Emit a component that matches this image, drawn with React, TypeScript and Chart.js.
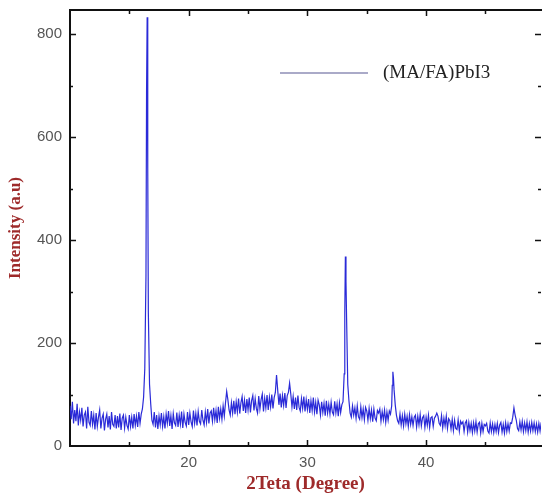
import React, { useEffect, useRef } from "react";
import { Chart, registerables } from "chart.js";

Chart.register(...registerables);

// Scan grid (2θ, degrees)
const scanStart = 10.0;
const scanStep = 0.1;

// Intensity (a.u.), 0.1° apart
const intensity10s = [
  78, 52, 86, 44, 70, 48, 82, 40, 66, 50,
  74, 38, 60, 66, 34, 76, 46, 40, 68, 42,
  60, 32, 64, 38, 56, 70, 34, 54, 62, 30,
  52, 62, 36, 58, 32, 66, 42, 38, 60, 34,
  58, 36, 63, 31, 54, 60, 35, 56, 40, 33,
  60, 38, 56, 34, 62, 40, 58, 37, 66, 44,
  62, 72, 95, 150, 330, 833, 260, 120, 82, 50,
  42, 66, 36, 60, 33, 58, 41, 64, 38, 57,
  34, 62, 44, 68, 39, 59, 33, 63, 45, 40,
  65, 37, 60, 42, 67, 35, 62, 46, 39, 66,
];
const intensity20s = [
  41, 64, 47, 38, 69, 44, 63, 40, 67, 48,
  43, 70, 50, 41, 66, 46, 72, 44, 64, 68,
  48, 74, 51, 69, 45, 76, 54, 72, 52, 78,
  58, 84, 106, 90, 70, 60, 84, 64, 88, 62,
  86, 66, 92, 63, 84, 96, 68, 89, 64, 91,
  70, 94, 65, 88, 98, 69, 92, 73, 64, 97,
  72, 90, 101, 67, 93, 74, 99, 70, 95, 76,
  100, 73, 94, 104, 138, 108, 80, 102, 75, 98,
  79, 103, 74, 98, 104, 122, 101, 76, 96, 72,
  94, 70, 98, 75, 68, 92, 73, 96, 67, 90,
];
const intensity30s = [
  71, 91, 64, 88, 69, 94, 66, 85, 62, 89,
  80, 60, 86, 65, 83, 59, 88, 64, 81, 62,
  85, 66, 61, 87, 64, 82, 58, 84, 65, 80,
  86, 140, 368, 250, 120, 88, 64, 56, 78, 60,
  74, 54, 78, 57, 52, 76, 55, 72, 51, 75,
  68, 50, 73, 53, 70, 47, 72, 54, 49, 69,
  64, 72, 48, 67, 51, 70, 46, 66, 50, 68,
  62, 78, 144, 110, 80, 60, 49, 44, 62, 41,
  59, 39, 62, 43, 58, 38, 61, 42, 57, 40,
  56, 60, 37, 58, 41, 61, 39, 55, 59, 36,
];
const intensity40s = [
  56, 40, 60, 36, 55, 57, 38, 54, 58, 64,
  58, 44, 40, 59, 35, 54, 39, 58, 34, 53,
  49, 33, 52, 30, 50, 34, 32, 51, 29, 48,
  43, 47, 28, 45, 49, 27, 46, 30, 44, 26,
  45, 29, 47, 27, 43, 46, 25, 44, 28, 42,
  39, 44, 29, 25, 45, 28, 43, 26, 42, 28,
  44, 26, 41, 46, 27, 42, 25, 45, 28, 43,
  29, 45, 44, 56, 74, 60, 50, 34, 30, 47,
  31, 48, 28, 45, 30, 47, 27, 44, 29, 46,
  30, 45, 28, 43, 27, 44, 29, 46, 26, 43,
  36,
];

// Extra points on the sharp peaks (half-step)
const peakDetailX = [16.45, 16.55, 33.15, 33.25, 37.15, 37.25];
const peakDetailY = [690, 540, 260, 320, 118, 132];

const seriesLabel = "(MA/FA)PbI3";
const xTickLabels = [20, 30, 40];
const yTickLabels = [0, 200, 400, 600, 800];
const xMinorTicks = [15, 20, 25, 30, 35, 40, 45];
const yMinorTicks = [100, 200, 300, 400, 500, 600, 700, 800];

const intensities = [...intensity10s, ...intensity20s, ...intensity30s, ...intensity40s];

function buildPoints() {
  const pts = intensities.map((y, i) => ({
    x: Math.round((scanStart + i * scanStep) * 100) / 100,
    y,
  }));
  peakDetailX.forEach((x, i) => pts.push({ x, y: peakDetailY[i] }));
  pts.sort((a, b) => a.x - b.x);
  return pts;
}

const framePlugin = {
  id: "frameTicksLegend",
  afterDraw(chart: any) {
    const { ctx, chartArea, scales } = chart;
    const { left, right, top, bottom } = chartArea;
    const xs = scales.x;
    const ys = scales.y;
    ctx.save();
    ctx.strokeStyle = "#111";
    ctx.lineWidth = 2;
    ctx.beginPath();
    ctx.moveTo(left - 1, top);
    ctx.lineTo(right + 1, top);
    ctx.stroke();

    ctx.lineWidth = 1.5;
    ctx.beginPath();
    xMinorTicks.forEach((v) => {
      const px = Math.round(xs.getPixelForValue(v)) + 0.5;
      const len = v % 10 === 0 ? 6 : 4;
      ctx.moveTo(px, bottom);
      ctx.lineTo(px, bottom - len);
      ctx.moveTo(px, top);
      ctx.lineTo(px, top + len);
    });
    yMinorTicks.forEach((v) => {
      const py = Math.round(ys.getPixelForValue(v)) + 0.5;
      const len = v % 200 === 0 ? 6 : 3;
      ctx.moveTo(left, py);
      ctx.lineTo(left + len, py);
      ctx.moveTo(right, py);
      ctx.lineTo(right - len, py);
    });
    ctx.stroke();

    // legend
    const ds = chart.data.datasets[0];
    ctx.strokeStyle = "#8e8eb6";
    ctx.lineWidth = 1.6;
    ctx.beginPath();
    ctx.moveTo(280, 73);
    ctx.lineTo(368, 73);
    ctx.stroke();
    ctx.fillStyle = "#222";
    ctx.font = "19px 'Liberation Serif', 'DejaVu Serif', serif";
    ctx.textBaseline = "middle";
    ctx.textAlign = "left";
    ctx.fillText(ds.label, 383, 73);
    ctx.restore();
  },
};

export default function App() {
  const canvasRef = useRef<HTMLCanvasElement | null>(null);

  useEffect(() => {
    const canvas = canvasRef.current;
    if (!canvas) return;
    const chart = new Chart(canvas, {
      type: "scatter",
      data: {
        datasets: [
          {
            label: seriesLabel,
            data: buildPoints(),
            showLine: true,
            borderColor: "#2a2ad8",
            borderWidth: 1.2,
            pointRadius: 0,
            tension: 0,
          },
        ],
      },
      options: {
        responsive: false,
        animation: false,
        devicePixelRatio: 1,
        layout: { padding: { top: 10, right: 1, left: 0, bottom: 0 } },
        plugins: {
          legend: { display: false },
          tooltip: { enabled: false },
        },
        scales: {
          x: {
            type: "linear",
            min: 10,
            max: 49.68,
            grid: { display: false, drawTicks: false },
            border: { display: true, color: "#111", width: 2 },
            afterBuildTicks: (scale: any) => {
              scale.ticks = xTickLabels.map((v) => ({ value: v }));
            },
            afterFit: (scale: any) => {
              scale.height = 50;
              scale.paddingLeft = 0;
              scale.paddingRight = 0;
            },
            ticks: {
              padding: 8,
              color: "#555",
              font: { family: "'Liberation Sans', Arial, sans-serif", size: 15 },
              maxRotation: 0,
            },
            title: {
              display: true,
              text: "2Teta (Degree)",
              color: "#9e2a2a",
              font: { family: "'Liberation Serif', 'DejaVu Serif', serif", size: 19, weight: "bold" },
              padding: { top: 0, bottom: 1 },
            },
          },
          y: {
            type: "linear",
            min: 0,
            max: 847,
            grid: { display: false, drawTicks: false },
            border: { display: true, color: "#111", width: 2 },
            afterBuildTicks: (scale: any) => {
              scale.ticks = yTickLabels.map((v) => ({ value: v }));
            },
            afterFit: (scale: any) => {
              scale.width = 70;
              scale.paddingTop = 0;
              scale.paddingBottom = 0;
            },
            ticks: {
              padding: 8,
              color: "#555",
              font: { family: "'Liberation Sans', Arial, sans-serif", size: 15 },
            },
            title: {
              display: true,
              text: "Intensity (a.u)",
              color: "#9e2a2a",
              font: { family: "'Liberation Serif', 'DejaVu Serif', serif", size: 17, weight: "bold" },
              padding: { top: 5, bottom: 0 },
            },
          },
        },
      },
      plugins: [framePlugin],
    });
    return () => chart.destroy();
  }, []);

  return (
    <div
      style={{
        position: "fixed",
        left: 0,
        top: 0,
        width: 542,
        height: 496,
        background: "#fff",
      }}
    >
      <canvas ref={canvasRef} width={542} height={496} />
    </div>
  );
}
